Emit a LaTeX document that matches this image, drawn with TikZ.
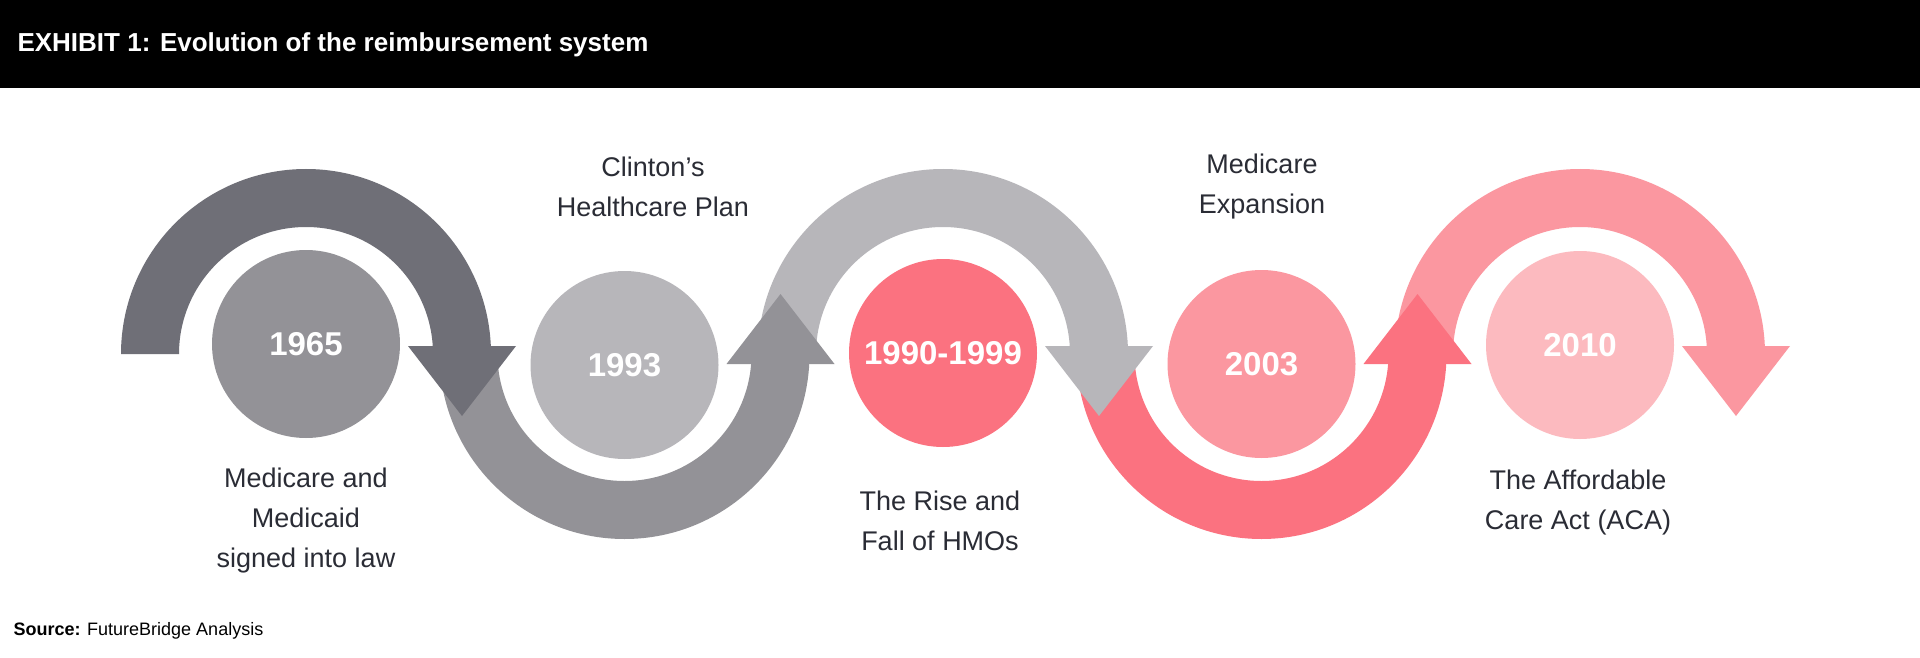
\documentclass[tikz,border=0pt]{standalone}
\usepackage{fontspec}
\setmainfont{Liberation Sans}
\definecolor{gA}{HTML}{6F6F77}
\definecolor{gB}{HTML}{939297}
\definecolor{gC}{HTML}{B7B6BA}
\definecolor{pA}{HTML}{FB7280}
\definecolor{pB}{HTML}{FB97A0}
\definecolor{pC}{HTML}{FCBABF}
\definecolor{txt}{HTML}{2A2C35}
\tikzset{
 yr/.style={circle,minimum size=188pt,inner sep=0pt,text=white,font=\bfseries\fontsize{33}{33}\selectfont},
 lbl/.style={align=center,text=txt,font=\fontsize{27}{40}\selectfont}
}
\begin{document}
\begin{tikzpicture}[x=1pt,y=1pt]
\useasboundingbox (0,0) rectangle (1920,-658);
\fill[white] (0,0) rectangle (1920,-658);
\fill[black] (0,0) rectangle (1920,-88);
\node[anchor=west,text=white,font=\bfseries\fontsize{26}{26}\selectfont] (title) at (14,-45) {EXHIBIT 1: Evolution of the reimbursement system};
% bands
\def\cy{-354}
\foreach \c/\col in {306/gA,943/gC,1580/pB}{
  \fill[\col] (\c-185,\cy) arc (180:0:185) -- (\c+127,\cy) arc (0:180:127) -- cycle;
}
\foreach \c/\col in {624.5/gB,1261.5/pA}{
  \fill[\col] (\c-185,\cy) arc (180:360:185) -- (\c+127,\cy) arc (360:180:127) -- cycle;
}
% arrowheads
\foreach \c/\col in {306/gA,943/gC,1580/pB}{
  \fill[\col] (\c+102,\cy+8) -- (\c+210,\cy+8) -- (\c+156,\cy-62) -- cycle;
}
\foreach \c/\col in {624.5/gB,1261.5/pA}{
  \fill[\col] (\c+102,\cy-10) -- (\c+210,\cy-10) -- (\c+156,\cy+60) -- cycle;
}
% circles
\node[yr,fill=gB] (c1) at (306,-344) {1965};
\node[yr,fill=gC] (c2) at (624.5,-365) {1993};
\node[yr,fill=pA] (c3) at (943,-353) {1990-1999};
\node[yr,fill=pB] (c4) at (1261.5,-364) {2003};
\node[yr,fill=pC] (c5) at (1580,-345) {2010};
% labels
\node[lbl] (l1) at (306,-521) {Medicare and\\Medicaid\\signed into law};
\node[lbl] (l2) at (653,-187) {Clinton’s\\Healthcare Plan};
\node[lbl] (l3) at (940,-521) {The Rise and\\Fall of HMOs};
\node[lbl] (l4) at (1262,-187) {Medicare\\Expansion};
\node[lbl] (l5) at (1578,-503) {The Affordable\\Care Act (ACA)};
\node[anchor=west,text=black,font=\fontsize{18}{18}\selectfont] (src) at (10,-631) {\textbf{Source:} FutureBridge Analysis};
\end{tikzpicture}
\end{document}
